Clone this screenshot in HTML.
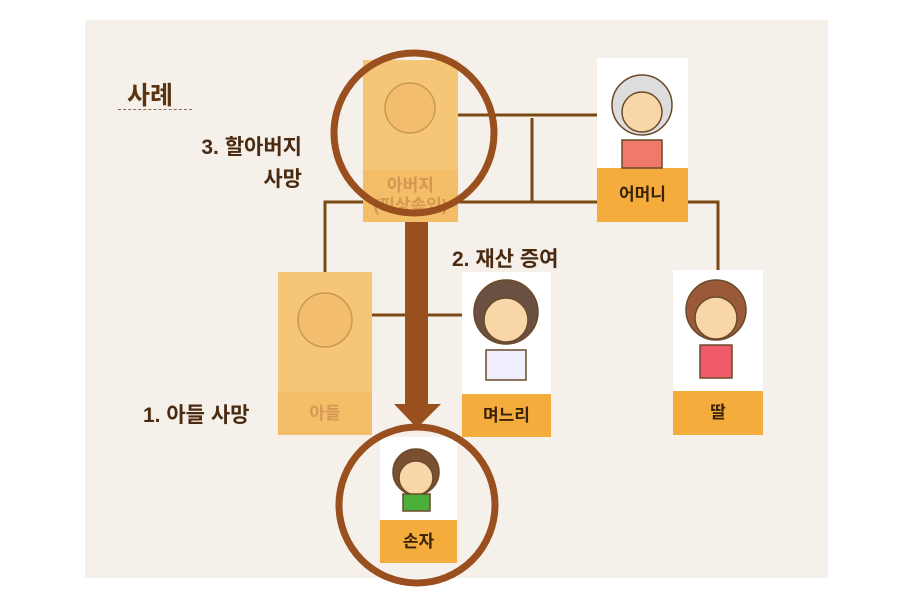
<!DOCTYPE html><html><head><meta charset="utf-8"><style>
body{margin:0;width:906px;height:596px;background:#fff;position:relative;overflow:hidden;font-family:"Liberation Sans","Noto Sans CJK KR",sans-serif}
.bg{position:absolute;left:85px;top:20px;width:743px;height:558px;background:#f5f0ea}
.t{position:absolute;font-weight:bold;color:#4a2a10;font-size:21px;white-space:nowrap}
.box{position:absolute}
.pic{position:absolute;left:0;top:0;right:0;background:#fff}
.lab{position:absolute;left:0;right:0;bottom:0;background:#f4ad3c;color:#3a2208;font-weight:bold;font-size:17px;display:flex;align-items:center;justify-content:center;text-align:center;line-height:20px}
.fade .pic{background:#f6c677}.fade .lab{background:#f4bd68;color:#d49852}
</style></head><body>
<div class="bg"></div>
<div class="t" style="left:127px;top:76px;font-size:25px;color:#5a3310">사례</div>
<div style="position:absolute;left:118px;top:109px;width:74px;border-top:1px dashed #8a6a4a"></div>
<div class="t" style="left:180px;top:132px;text-align:right;width:122px;line-height:32px">3. 할아버지<br>사망</div>
<div class="t" style="left:452px;top:243px">2. 재산 증여</div>
<div class="t" style="left:143px;top:399px">1. 아들 사망</div>

<svg style="position:absolute;left:0;top:0" width="906" height="596">
<g stroke="#7a4a14" stroke-width="3" fill="none">
<line x1="458" y1="115" x2="597" y2="115"/>
<line x1="532" y1="118" x2="532" y2="202"/>
<polyline points="325,272 325,202 597,202"/>
<polyline points="688,202 718,202 718,270"/>
<line x1="372" y1="315" x2="462" y2="315"/>
</g>
</svg>

<div class="box fade" style="left:363px;top:60px;width:95px;height:162px"><div class="pic" style="height:110px"></div><div class="lab" style="height:52px">아버지<br>(피상속인)</div></div>
<div class="box" style="left:597px;top:58px;width:91px;height:164px"><div class="pic" style="height:110px"></div><div class="lab" style="height:54px">어머니</div></div>
<div class="box fade" style="left:278px;top:272px;width:94px;height:163px"><div class="pic" style="height:120px"></div><div class="lab" style="height:43px">아들</div></div>
<div class="box" style="left:462px;top:272px;width:89px;height:165px"><div class="pic" style="height:122px"></div><div class="lab" style="height:43px">며느리</div></div>
<div class="box" style="left:673px;top:270px;width:90px;height:165px"><div class="pic" style="height:121px"></div><div class="lab" style="height:44px">딸</div></div>
<div class="box" style="left:380px;top:437px;width:77px;height:126px"><div class="pic" style="height:83px"></div><div class="lab" style="height:43px">손자</div></div>

<svg style="position:absolute;left:0;top:0" width="906" height="596">
<g stroke="#6a4a2a" stroke-width="1.5">
<circle cx="410" cy="108" r="25" fill="#f3bd6e" stroke="#c89a50"/>
<circle cx="642" cy="105" r="30" fill="#ddd"/><circle cx="642" cy="112" r="20" fill="#f8d6a8"/>
<path d="M622 140 h40 v28 h-40z" fill="#f07a6a"/>
<circle cx="325" cy="320" r="27" fill="#f3bd6e" stroke="#c89a50"/>
<circle cx="506" cy="312" r="32" fill="#6a5040"/><circle cx="506" cy="320" r="22" fill="#f8d6a8"/>
<path d="M486 350 h40 v30 h-40z" fill="#eef" />
<circle cx="716" cy="310" r="30" fill="#9a5a3a"/><circle cx="716" cy="318" r="21" fill="#f8d6a8"/>
<path d="M700 345 h32 v33 h-32z" fill="#f05a6a"/>
<circle cx="416" cy="472" r="23" fill="#7a5030"/><circle cx="416" cy="478" r="17" fill="#f8d6a8"/>
<path d="M403 494 h27 v17 h-27z" fill="#4caf3a"/>
</g>
<g fill="none" stroke="#9a4f1e" stroke-width="7">
<circle cx="414" cy="133" r="80"/>
<circle cx="417" cy="505" r="78"/>
</g>
<rect x="405" y="222" width="23" height="183" fill="#9a4f1e"/>
<polygon points="394,404 441,404 417,428" fill="#9a4f1e"/>
</svg>
</body></html>
